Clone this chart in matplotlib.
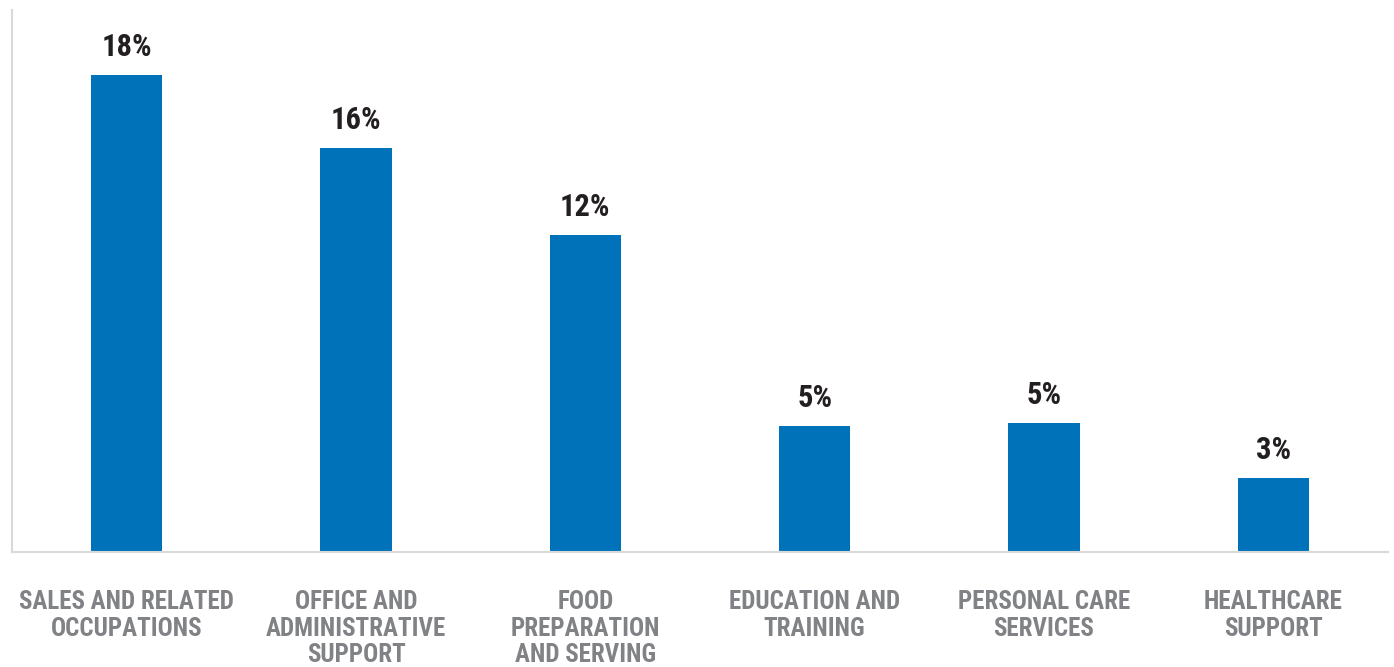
#!/usr/bin/env python3
# -*- coding: utf-8 -*-
import matplotlib
matplotlib.use('Agg')
import matplotlib.pyplot as plt

#===================================================================================#
## data
categories = ['SALES AND RELATED\nOCCUPATIONS',
              'OFFICE AND\nADMINISTRATIVE\nSUPPORT',
              'FOOD\nPREPARATION\nAND SERVING',
              'EDUCATION AND\nTRAINING',
              'PERSONAL CARE\nSERVICES',
              'HEALTHCARE\nSUPPORT']
values = [17.6, 14.9, 11.7, 4.65, 4.76, 2.73]
value_labels = ['18%', '16%', '12%', '5%', '5%', '3%']

## plot parameters
bar_color = '#0072BA'
cat_color = '#808285'
num_color = '#231F20'
spine_color = '#D9D9D9'
fam = ['Roboto Condensed', 'DejaVu Sans']

#===================================================================================#
def main():
    fig = plt.figure(figsize=(13.94, 6.67), dpi=100)
    ax = fig.add_axes([12/1394, 1-552/667, 1376/1394, 542/667])

    xdata = range(len(categories))
    ax.bar(xdata, values, width=0.31, color=bar_color)

    for x, v, s in zip(xdata, values, value_labels):
        ax.annotate(s, (x, v), xytext=(0, 13.5), textcoords='offset points',
                    ha='center', va='baseline', fontsize=22, fontweight='bold',
                    family=fam, color=num_color)

    ax.set_xlim(-0.5, len(categories) - 0.5)
    ax.set_ylim(0, 20)
    ax.set_xticks(list(xdata))
    ax.set_xticklabels(categories, fontsize=18, fontweight='bold', family=fam,
                       color=cat_color, linespacing=1.13, va='top')
    ax.tick_params(axis='x', length=0, pad=27.5)
    ax.set_yticks([])

    for side in ['top', 'right']:
        ax.spines[side].set_visible(False)
    ax.spines['left'].set_color(spine_color)
    ax.spines['bottom'].set_color(spine_color)
    ax.spines['left'].set_linewidth(1.5)
    ax.spines['bottom'].set_linewidth(1.5)

    fig.savefig('out.png', dpi=100)
#===================================================================================#
if __name__ == '__main__':
    main()
